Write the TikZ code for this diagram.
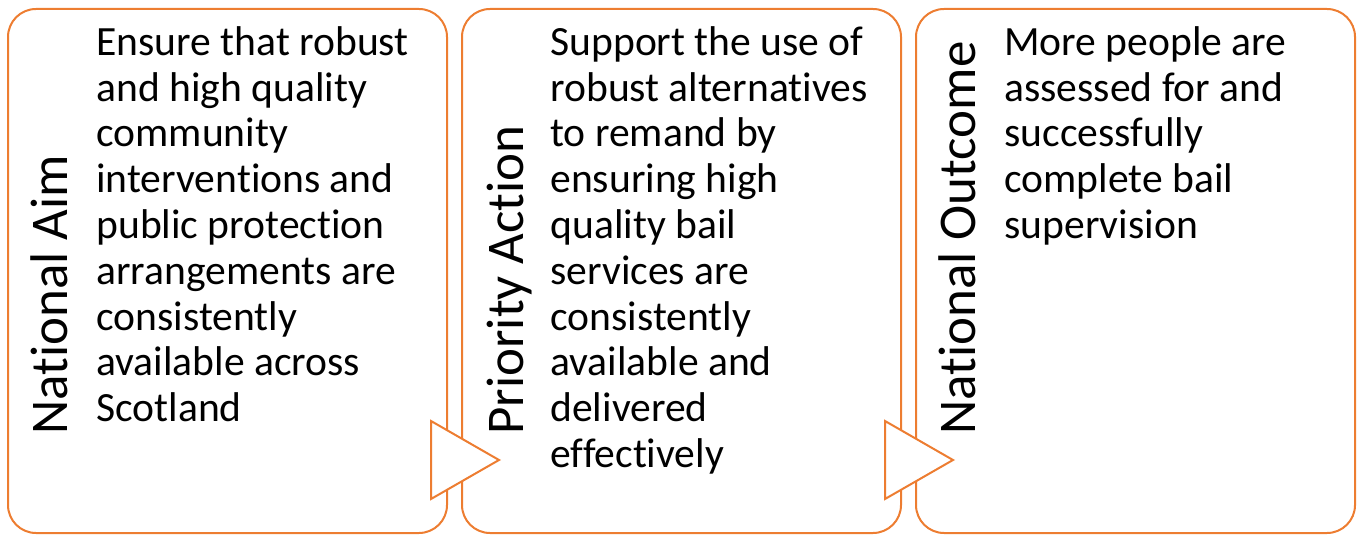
\documentclass[tikz,border=0pt]{standalone}
\usepackage{fontspec}
\setmainfont[Ligatures={NoCommon}]{Carlito}
\usetikzlibrary{positioning}

\definecolor{boxorange}{RGB}{237,125,49}

\begin{document}
\begin{tikzpicture}[
  x=0.5pt, y=0.5pt,
  panel/.style={rectangle, draw=boxorange, line width=1pt, rounded corners=14pt, minimum width=219.5pt, minimum height=262pt, inner sep=0pt, outer sep=0pt},
  heading/.style={rotate=90, anchor=base west, inner sep=0pt, font=\fontsize{26.5}{32}\selectfont},
  body/.style={anchor=north west, inner sep=0pt, align=left, font=\fontsize{20.8}{22.9}\selectfont, execute at begin node=\rule{0pt}{16pt}},
  chevron/.style={draw=boxorange, fill=white, line width=1pt, line join=miter}
]
\useasboundingbox (0,0) rectangle (1363,535);

% the three panels
\node[panel] (aim) at (227.5,264) {};
\node[panel, right=7.5pt of aim] (action) {};
\node[panel, right=7.5pt of action] (outcome) {};

% headings, written upwards
\node[heading] (aimhead) at ([xshift=29.5pt, yshift=49pt]aim.south west) {National Aim};
\node[heading] (actionhead) at ([xshift=30.5pt, yshift=49pt]action.south west) {Priority Action};
\node[heading] (outcomehead) at ([xshift=29.5pt, yshift=49pt]outcome.south west) {National Outcome};

% panel texts
\node[body] (aimtext) at ([xshift=44pt, yshift=-8.5pt]aim.north west) {Ensure that robust\\and high quality\\community\\interventions and\\public protection\\arrangements are\\consistently\\available across\\Scotland};
\node[body] (actiontext) at ([xshift=44pt, yshift=-8.5pt]action.north west) {Support the use of\\robust alternatives\\to remand by\\ensuring high\\quality bail\\services are\\consistently\\available and\\delivered\\effectively};
\node[body] (outcometext) at ([xshift=44pt, yshift=-8.5pt]outcome.north west) {More people are\\assessed for and\\successfully\\complete bail\\supervision};

% open arrow heads between the panels
\draw[chevron] ([xshift=-8pt, yshift=56pt]aim.south east) -- ([xshift=26pt, yshift=36.5pt]aim.south east) -- ([xshift=-8pt, yshift=17pt]aim.south east) -- cycle;
\draw[chevron] ([xshift=-8pt, yshift=56pt]action.south east) -- ([xshift=26pt, yshift=36.5pt]action.south east) -- ([xshift=-8pt, yshift=17pt]action.south east) -- cycle;
\end{tikzpicture}
\end{document}
